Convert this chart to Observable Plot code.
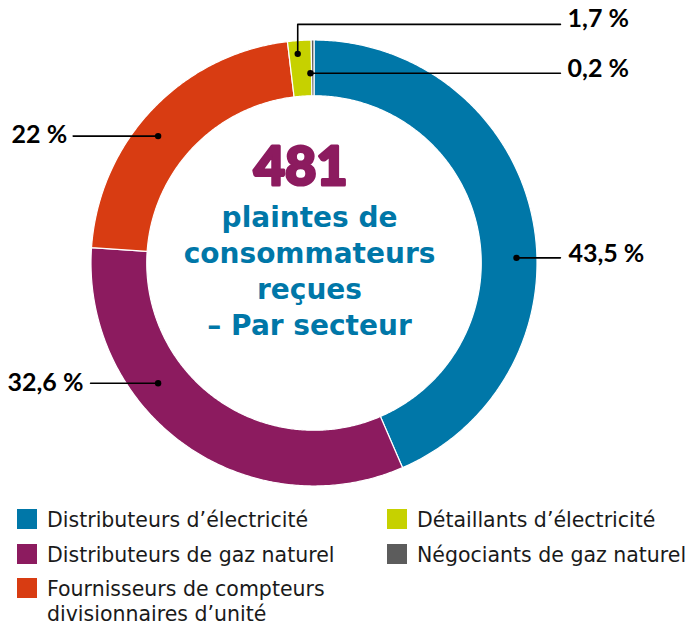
<!DOCTYPE html>
<html><head><meta charset="utf-8">
<script src="https://cdn.jsdelivr.net/npm/d3@7"></script>
<script src="https://cdn.jsdelivr.net/npm/@observablehq/plot@0.6"></script>
<style>
body{margin:0;background:#fff;}
#wrap{position:relative;width:688px;height:628px;overflow:hidden;background:#fff;}
#chart{position:absolute;left:0;top:0;}
.leg{position:absolute;font-family:"DejaVu Sans",sans-serif;font-size:20.5px;line-height:25px;color:#1a1a1a;width:300px;}
.leg.nw{white-space:nowrap;}
.sw{position:absolute;width:20px;height:20px;}
</style></head><body><div id="wrap"><div id="chart"></div><div id="legend"></div></div>
<script>
// ---- data ----
const sectors = ["Distributeurs d’électricité","Distributeurs de gaz naturel","Fournisseurs de compteurs divisionnaires d’unité","Détaillants d’électricité","Négociants de gaz naturel"];
const shares = [43.5, 32.6, 22, 1.7, 0.2];
const colors = ["#0077a8","#8c1b5f","#d83c12","#c6d100","#5c5c5c"];
const totalComplaints = 481;
const centerLines = ["plaintes de","consommateurs","reçues","– Par secteur"];

// ---- layout (unit-circle coordinates) ----
const innerRatio = 0.75;
const labelLayout = [
  {dot:[0.908,0.023], path:[[1.105,0.023]], text:[1.141,0.039], anchor:"start"},
  {dot:[-0.699,-0.539], path:[[-1.002,-0.539]], text:[-1.034,-0.536], anchor:"end"},
  {dot:[-0.699,0.569], path:[[-1.080,0.569]], text:[-1.107,0.573], anchor:"end"},
  {dot:[-0.073,0.938], path:[[-0.073,1.070],[1.105,1.070]], text:[1.137,1.092], anchor:"start"},
  {dot:[-0.016,0.851], path:[[1.105,0.851]], text:[1.137,0.868], anchor:"start"}
];

const data = sectors.map((s,i)=>({sector:s, share:shares[i]}));
const arcs = d3.pie().sort(null).value(d=>d.share)(data);
const ringPts = [];
arcs.forEach(p=>{
  const a0=p.startAngle, a1=p.endAngle;
  const n=Math.max(2, Math.ceil((a1-a0)/(Math.PI/360)));
  for(let i=0;i<=n;i++){const a=a0+(a1-a0)*i/n; ringPts.push({sector:p.data.sector,x:Math.sin(a),y:Math.cos(a)});}
  for(let i=n;i>=0;i--){const a=a0+(a1-a0)*i/n; ringPts.push({sector:p.data.sector,x:innerRatio*Math.sin(a),y:innerRatio*Math.cos(a)});}
});
const fmt = v => String(v).replace(".", ",") + "\u00a0%";
const leaderPts = [], dots = [], labels = [];
data.forEach((d,i)=>{
  const L = labelLayout[i];
  leaderPts.push({sector:d.sector,x:L.dot[0],y:L.dot[1]});
  L.path.forEach(q=>leaderPts.push({sector:d.sector,x:q[0],y:q[1]}));
  dots.push({x:L.dot[0],y:L.dot[1]});
  labels.push({x:L.text[0],y:L.text[1],text:fmt(d.share),anchor:L.anchor});
});

const cx=313.5, cy=262.5, R=223;
const chart = Plot.plot({
  width:688, height:500, margin:0,
  x:{domain:[-1,1], range:[cx-R,cx+R], axis:null},
  y:{domain:[-1,1], range:[cy+R,cy-R], axis:null},
  color:{domain:sectors, range:colors},
  style:{background:"#fff"},
  marks:[
    Plot.line(ringPts,{x:"x",y:"y",z:"sector",fill:"sector",stroke:"#fff",strokeWidth:1.2,curve:"linear-closed"}),
    Plot.line(leaderPts,{x:"x",y:"y",z:"sector",stroke:"#000",strokeWidth:1.6}),
    Plot.dot(dots,{x:"x",y:"y",r:3.2,fill:"#000"}),
    Plot.text(labels.filter(d=>d.anchor==="start"),{x:"x",y:"y",text:"text",textAnchor:"start",fontSize:25,fontWeight:700,fontFamily:"Lato",fill:"#000"}),
    Plot.text(labels.filter(d=>d.anchor==="end"),{x:"x",y:"y",text:"text",textAnchor:"end",fontSize:25,fontWeight:700,fontFamily:"Lato",fill:"#000"}),
    Plot.text([String(totalComplaints)],{x:-0.06,y:0.426,text:d=>d,fontSize:54,fontWeight:900,fontFamily:"Lato",fill:"#8c1b5f",stroke:"#8c1b5f",strokeWidth:3,strokeLinejoin:"round"}),
    Plot.text([centerLines.join("\n")],{x:-0.02,y:-0.027,text:d=>d,fontSize:28,lineHeight:1.2857,fontWeight:700,fontFamily:"DejaVu Sans",fill:"#0077a8"})
  ]
});
document.getElementById("chart").appendChild(chart);

// ---- legend ----
const legend = document.getElementById("legend");
const legPos = [[17,508],[17,543],[17,577],[387,508],[387,543]];
sectors.forEach((s,i)=>{
  const [lx,ly]=legPos[i];
  const sw=document.createElement("div"); sw.className="sw";
  sw.style.left=lx+"px"; sw.style.top=(ly+1)+"px"; sw.style.background=colors[i];
  legend.appendChild(sw);
  const t=document.createElement("div"); t.className = i===2 ? "leg" : "leg nw";
  t.style.left=(lx+30)+"px"; t.style.top=ly+"px"; t.textContent=s;
  legend.appendChild(t);
});
</script></body></html>
